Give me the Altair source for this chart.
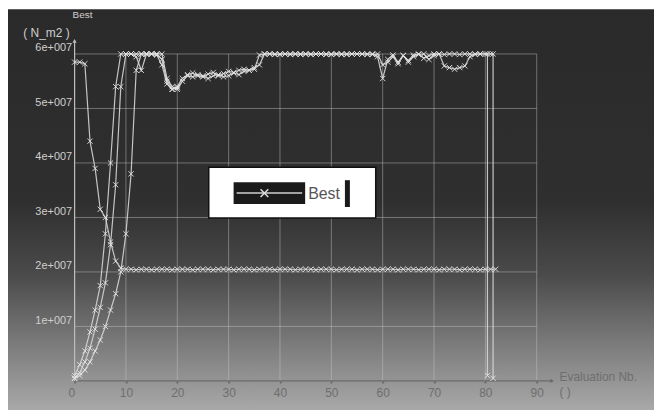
import altair as alt
import pandas as pd

# ---------------- data (values in units of 1e7 N_m2) ----------------
eval_a = list(range(0, 83))
best_a = [5.85, 5.85, 5.82, 4.40, 3.90, 3.15, 3.00, 2.55, 2.20, 2.07, 2.05,
          2.05, 2.04, 2.05, 2.05, 2.04, 2.05, 2.05, 2.05, 2.04, 2.05,
          2.05, 2.05, 2.04, 2.05, 2.05, 2.05, 2.04, 2.05, 2.05, 2.05,
          2.04, 2.05, 2.05, 2.05, 2.04, 2.05, 2.05, 2.05, 2.04, 2.05,
          2.05, 2.05, 2.04, 2.05, 2.05, 2.05, 2.04, 2.05, 2.05, 2.05,
          2.04, 2.05, 2.05, 2.05, 2.04, 2.05, 2.05, 2.05, 2.04, 2.05,
          2.05, 2.05, 2.04, 2.05, 2.05, 2.05, 2.04, 2.05, 2.05, 2.05,
          2.04, 2.05, 2.05, 2.05, 2.04, 2.05, 2.05, 2.05, 2.04, 2.05,
          2.05, 2.05]

eval_b = list(range(0, 82)) + [81.5, 81.5]
best_b = [0.10, 0.30, 0.55, 0.90, 1.30, 1.75, 2.70, 4.00, 5.40, 6.00, 6.00,
          6.00, 5.95, 5.70, 6.00, 6.00, 6.00, 6.00, 5.55, 5.40, 5.35,
          5.50, 5.60, 5.58, 5.62, 5.60, 5.55, 5.60, 5.62, 5.58, 5.60,
          5.65, 5.62, 5.68, 5.70, 5.72, 5.98, 6.00, 6.00, 5.99, 6.00,
          6.00, 5.99, 6.00, 6.00, 6.00, 5.99, 6.00, 6.00, 6.00, 5.99,
          6.00, 6.00, 5.99, 6.00, 6.00, 6.00, 5.99, 6.00, 5.95, 5.55,
          5.90, 5.98, 5.85, 5.97, 5.88, 5.98, 6.00, 5.92, 5.97, 6.00,
          6.00, 5.99, 6.00, 6.00, 5.99, 6.00, 6.00, 5.99, 6.00, 6.00,
          6.00, 6.00, 0.05]

eval_c = list(range(0, 80)) + [80.4, 80.4]
best_c = [0.05, 0.15, 0.35, 0.60, 0.95, 1.35, 1.80, 2.50, 3.60, 5.40, 6.00,
          6.00, 6.00, 6.00, 6.00, 6.00, 5.98, 5.80, 5.45, 5.35, 5.40,
          5.55, 5.62, 5.65, 5.60, 5.58, 5.63, 5.66, 5.60, 5.64, 5.68,
          5.66, 5.70, 5.72, 5.70, 5.75, 5.80, 6.00, 6.00, 6.00, 5.99,
          6.00, 6.00, 6.00, 5.99, 6.00, 6.00, 6.00, 6.00, 5.99, 6.00,
          6.00, 5.99, 6.00, 6.00, 6.00, 6.00, 6.00, 5.99, 6.00, 5.80,
          5.85, 5.95, 5.82, 5.97, 5.85, 5.95, 5.99, 6.00, 5.90, 5.97,
          6.00, 5.78, 5.75, 5.72, 5.75, 5.78, 5.95, 6.00, 6.00,
          6.00, 0.10]

eval_d = list(range(0, 21))
best_d = [0.05, 0.10, 0.20, 0.35, 0.55, 0.75, 1.00, 1.30, 1.60, 2.00, 2.70,
          3.80, 5.70, 6.00, 6.00, 6.00, 6.00, 5.90, 5.50, 5.35, 5.38]

x_ticks = [0, 10, 20, 30, 40, 50, 60, 70, 80, 90]
y_ticks = [1e7, 2e7, 3e7, 4e7, 5e7, 6e7]

rows = []
for name, xs, ys in [("a", eval_a, best_a), ("b", eval_b, best_b),
                     ("c", eval_c, best_c), ("d", eval_d, best_d)]:
    for i, (xv, yv) in enumerate(zip(xs, ys)):
        rows.append({"run": name, "idx": i, "eval": xv, "best": yv * 1e7})
df = pd.DataFrame(rows)

# ---------------- layout ----------------
W, H = 465, 329
PAD = {"left": 67, "top": 45, "right": 118, "bottom": 30}
FONT = "Liberation Sans"

xscale = alt.Scale(domain=[0, 90], nice=False, zero=False)
yscale = alt.Scale(domain=[0, 6e7], nice=False)

xaxis = alt.Axis(values=x_ticks, title=None, grid=False, domain=False,
                 ticks=True, tickSize=2, tickWidth=2, tickColor="#6a6a6a",
                 labelColor="#6e6e6e", labelFont=FONT, labelFontSize=12,
                 labelPadding=5, zindex=2,
                 labelAlign=alt.ConditionalAxisLabelAlign(
                     condition={"test": "datum.value == 0", "value": "right"},
                     value="center"))
yaxis = alt.Axis(values=y_ticks, title=None, grid=False, domain=False,
                 ticks=False, labelColor="#cfcfcf", labelFont=FONT,
                 labelFontSize=11, labelPadding=3, labelOffset=-6, zindex=2,
                 labelExpr="format(datum.value / 1e7, 'd') + 'e+007'")

X = lambda f: alt.X(f, type="quantitative", scale=xscale, axis=xaxis)
Y = lambda f: alt.Y(f, type="quantitative", scale=yscale, axis=yaxis)

# background gradient
bg = alt.Chart(alt.Data(values=[{}])).mark_rect(
    fill=alt.Gradient(gradient="linear", x1=0, x2=0, y1=0, y2=1,
                      stops=[alt.GradientStop(color="#2a2a2a", offset=0),
                             alt.GradientStop(color="#2f2f2f", offset=0.48),
                             alt.GradientStop(color="#4a4a4a", offset=0.66),
                             alt.GradientStop(color="#7a7a7a", offset=0.83),
                             alt.GradientStop(color="#a9a9a9", offset=1)])
).encode(x=alt.value(-PAD["left"]), x2=alt.value(W + PAD["right"]),
         y=alt.value(-PAD["top"]), y2=alt.value(H + PAD["bottom"]))

# grid
vgrid = alt.Chart(pd.DataFrame({"gx": x_ticks, "y0": 0.0, "y1": 6e7})).mark_rule(
    color="#c8c8c8", opacity=0.45, strokeWidth=1
).encode(x=X("gx"), y=Y("y0"), y2="y1")
hgrid = alt.Chart(pd.DataFrame({"gy": y_ticks, "x0": 0, "x1": 90})).mark_rule(
    color="#c8c8c8", opacity=0.45, strokeWidth=1
).encode(y=Y("gy"), x=X("x0"), x2="x1")

# axis lines with arrows
xline = alt.Chart(pd.DataFrame({"x0": [0], "x1": [93], "yy": [0.0]})).mark_rule(
    color="#6a6a6a", strokeWidth=1.2).encode(x=X("x0"), x2="x1", y=Y("yy"))
yline = alt.Chart(pd.DataFrame({"xx": [0], "y0": [0.0], "y1": [6.24e7]})).mark_rule(
    color="#bdbdbd", strokeWidth=1.2).encode(x=X("xx"), y=Y("y0"), y2="y1")
xarrow = alt.Chart(pd.DataFrame({"xx": [93], "yy": [0.0]})).mark_point(
    shape="triangle-right", filled=True, size=18, color="#6a6a6a", opacity=1
).encode(x=X("xx"), y=Y("yy"))
yarrow = alt.Chart(pd.DataFrame({"xx": [0], "yy": [6.24e7]})).mark_point(
    shape="triangle-up", filled=True, size=18, color="#bdbdbd", opacity=1
).encode(x=X("xx"), y=Y("yy"))

# series
lines = alt.Chart(df).mark_line(color="#d6d6d6", strokeWidth=1.2, opacity=0.9).encode(
    x=X("eval"), y=Y("best"), detail="run:N", order="idx:Q")
pts = alt.Chart(df).mark_point(
    shape="M-1,-1L1,1M-1,1L1,-1", size=28, filled=False, strokeWidth=1,
    color="#e6e6e6", opacity=0.9
).encode(x=X("eval"), y=Y("best"))

# titles
def txt(s, x, y, size, color, align="left", baseline="middle"):
    return alt.Chart(alt.Data(values=[{}])).mark_text(
        text=s, font=FONT, fontSize=size, color=color, align=align,
        baseline=baseline
    ).encode(x=alt.value(x), y=alt.value(y))

ytitle = txt("( N_m2 )", -5, -21, 12, "#cfcfcf", align="right")
ysup = txt("Best", -2, -39, 10, "#cfcfcf")
xtitle = txt("Evaluation Nb.", 488, 325, 12, "#6e6e6e")
xunit = txt("( )", 488, 340, 12, "#6e6e6e")

# legend box
def box(x1, x2, y1, y2, fill, stroke=None):
    kw = {"fill": fill}
    if stroke:
        kw.update(stroke=stroke, strokeWidth=1.5)
    return alt.Chart(alt.Data(values=[{}])).mark_rect(**kw).encode(
        x=alt.value(x1), x2=alt.value(x2), y=alt.value(y1), y2=alt.value(y2))

leg_bg = box(135, 303, 114, 165, "#ffffff", "#111111")
leg_sym = box(160, 232, 129, 151, "#1a1a1a")
leg_bar = box(272, 277, 127, 154, "#1a1a1a")
leg_line = alt.Chart(alt.Data(values=[{}])).mark_rule(
    color="#cfcfcf", strokeWidth=1.5).encode(
    x=alt.value(163), x2=alt.value(229), y=alt.value(140))
leg_pt = alt.Chart(alt.Data(values=[{}])).mark_point(
    shape="M-1,-1L1,1M-1,1L1,-1", size=60, filled=False, strokeWidth=1.5,
    color="#dedede", opacity=1).encode(x=alt.value(191), y=alt.value(140))
leg_txt = txt("Best", 235, 141, 16, "#555555")

chart = alt.layer(
    bg, vgrid, hgrid, xline, yline, xarrow, yarrow, lines, pts,
    ytitle, ysup, xtitle, xunit,
    leg_bg, leg_sym, leg_bar, leg_line, leg_pt, leg_txt
).properties(
    width=W, height=H, autosize="none", padding=PAD, background="#ffffff"
).configure_view(stroke=None)

chart.save("out.html", embed_options={"renderer": "svg", "actions": False})
